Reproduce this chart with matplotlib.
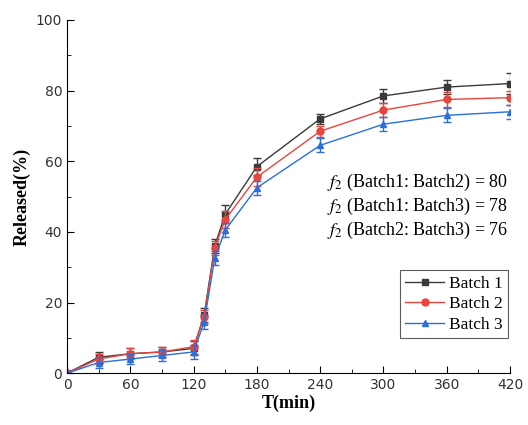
import numpy as np
import matplotlib
matplotlib.use('Agg')
from matplotlib import pyplot as plt
from matplotlib.ticker import MultipleLocator

plt.rcParams['mathtext.fontset'] = 'stix'

# sampling times (min)
t = [0, 30, 60, 90, 120, 130, 140, 150, 180, 240, 300, 360, 420]

batch1 = [0, 4.5, 5.5, 6.0, 7.0, 16.5, 36.0, 45.0, 58.5, 72.0, 78.5, 81.0, 82.0]
batch2 = [0, 4.0, 5.5, 6.0, 7.5, 16.0, 35.5, 43.5, 55.5, 68.5, 74.5, 77.5, 78.0]
batch3 = [0, 3.0, 4.0, 5.0, 6.0, 14.5, 32.5, 40.5, 52.5, 64.5, 70.5, 73.0, 74.0]

err1 = [0.5, 1.5, 1.5, 1.5, 2.0, 2.0, 2.0, 2.5, 2.5, 1.5, 2.0, 2.0, 3.0]
err2 = [0.5, 1.5, 1.5, 1.5, 2.0, 2.0, 2.0, 2.5, 2.5, 1.5, 2.0, 2.0, 2.0]
err3 = [0.5, 1.5, 1.5, 1.5, 2.0, 2.0, 2.0, 2.0, 2.0, 2.0, 2.0, 2.0, 2.0]

labels = ['Batch 1', 'Batch 2', 'Batch 3']
f2_text = [r'$\mathit{f}_2$ (Batch1: Batch2) = 80',
           r'$\mathit{f}_2$ (Batch1: Batch3) = 78',
           r'$\mathit{f}_2$ (Batch2: Batch3) = 76']

fig = plt.figure(figsize=(5.28, 4.25), dpi=100)
ax = fig.add_axes([0.127, 0.122, 0.839, 0.831])

styles = [('#3a3a3a', 's'), ('#e8453c', 'o'), ('#2a6fdb', '^')]
handles = []
for y, e, lab, (c, m) in zip([batch1, batch2, batch3], [err1, err2, err3], labels, styles):
    ax.errorbar(t, y, yerr=e, color=c, fmt='none', capsize=3, elinewidth=1)
    h, = ax.plot(t, y, color=c, marker=m, markersize=5, linewidth=1, label=lab)
    handles.append(h)

ax.set_xlim(0, 420)
ax.set_ylim(0, 100)
ax.set_xticks([0, 60, 120, 180, 240, 300, 360, 420])
ax.set_yticks([0, 20, 40, 60, 80, 100])
ax.xaxis.set_minor_locator(MultipleLocator(30))
ax.yaxis.set_minor_locator(MultipleLocator(10))
ax.tick_params(direction='in', which='major', length=5, labelsize=10, labelcolor='#333333')
ax.tick_params(direction='in', which='minor', length=3)
ax.spines['top'].set_visible(False)
ax.spines['right'].set_visible(False)

ax.set_xlabel('T(min)', family='Liberation Serif', fontweight='bold', fontsize=13, labelpad=2)
ax.set_ylabel('Released(%)', family='Liberation Serif', fontweight='bold', fontsize=13)

for i, s in enumerate(f2_text):
    ax.text(418, 54 - i * 6.8, s, ha='right', va='center', fontsize=13,
            family='Liberation Serif')

leg = ax.legend(handles=handles, loc='lower right', bbox_to_anchor=(0.995, 0.1),
                borderaxespad=0, prop={'family': 'Liberation Serif', 'size': 12.5},
                fancybox=False, edgecolor='#333333', handlelength=2.2, borderpad=0.3,
                labelspacing=0.25, handletextpad=0.3)
leg.get_frame().set_linewidth(0.8)

plt.savefig('out.png', dpi=100)
